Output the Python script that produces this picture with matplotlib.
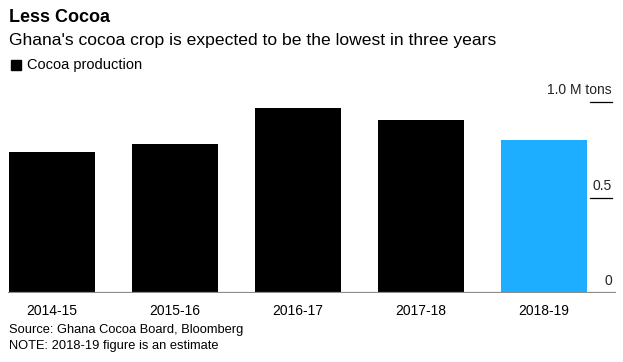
import matplotlib.pyplot as plt
from matplotlib import transforms

plt.rcParams['font.family'] = ['Liberation Sans', 'DejaVu Sans']

# data (million tons)
seasons = ['2014-15', '2015-16', '2016-17', '2017-18', '2018-19']
production = [0.74, 0.778, 0.969, 0.905, 0.80]
estimate = [False, False, False, False, True]
ytick_vals = [0, 0.5, 1.0]
ytick_labels = ['0', '0.5', '1.0 M tons']

black = '#000000'
blue = '#1EAEFF'

fig = plt.figure(figsize=(6.23, 3.62), dpi=100)
ax = fig.add_axes([8 / 623, 69 / 362, 608 / 623, 203 / 362])

#  bars
colors = [blue if e else black for e in estimate]
ax.bar(range(len(seasons)), production, width=0.7, color=colors)
ax.set_xlim(-0.36, 4.59)
ax.set_ylim(0, 203 / 191)

#  baseline
ax.axhline(0, color='#8c8c8c', linewidth=1.6, zorder=3)

#  right side labels with short tick lines under them
trans = transforms.blended_transform_factory(ax.transAxes, ax.transData)
for v, lab in zip(ytick_vals, ytick_labels):
    ax.text(0.9935, v + 0.025, lab, transform=trans, ha='right', va='bottom',
            fontsize=10, color='#222222')
    if v > 0:
        ax.plot([0.957, 0.9935], [v, v], transform=trans, color='black',
                linewidth=0.9)

ax.set_xticks(range(len(seasons)))
ax.set_xticklabels(seasons, fontsize=10)
ax.tick_params(axis='x', length=0, pad=8)
ax.set_yticks([])
for s in ax.spines.values():
    s.set_visible(False)

#  titles and legend
fig.text(9 / 623, 1 - 18 / 362, 'Less Cocoa', fontsize=13, fontweight='bold',
         va='center', ha='left')
fig.text(9 / 623, 1 - 40 / 362,
         "Ghana's cocoa crop is expected to be the lowest in three years",
         fontsize=12.6, va='center', ha='left')
fig.patches.append(plt.Rectangle((11 / 623, 1 - 70 / 362), 10 / 623, 10 / 362,
                                 transform=fig.transFigure, color='black'))
fig.text(27 / 623, 1 - 65 / 362, 'Cocoa production', fontsize=10.5,
         va='center', ha='left')

#  footer
fig.text(9 / 623, 1 - 330 / 362, 'Source: Ghana Cocoa Board, Bloomberg',
         fontsize=9.3, va='center', ha='left')
fig.text(9 / 623, 1 - 346 / 362, 'NOTE: 2018-19 figure is an estimate',
         fontsize=9.3, va='center', ha='left')

fig.savefig('out.png', dpi=100)
